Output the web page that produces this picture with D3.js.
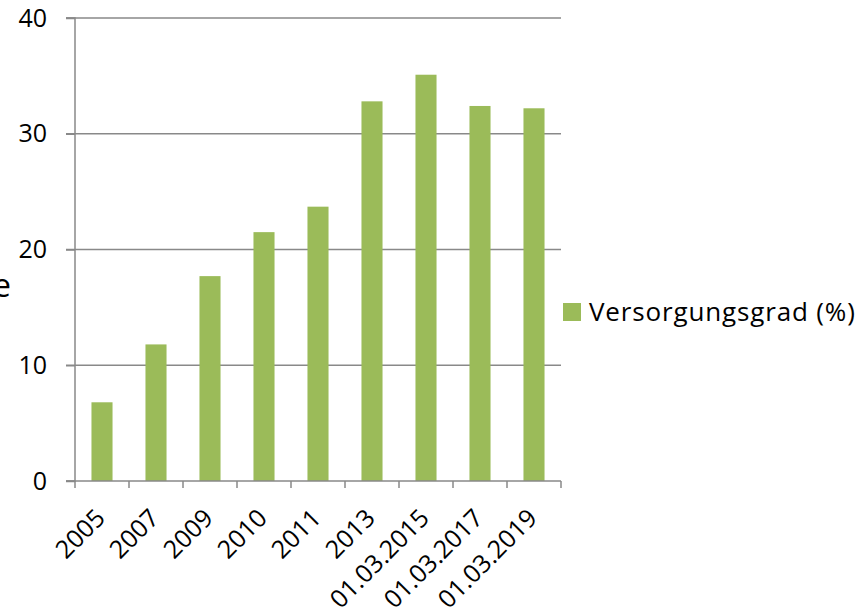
<!DOCTYPE html>
<html><head><meta charset="utf-8">
<script src="https://cdn.jsdelivr.net/npm/d3@7"></script>
<style>html,body{margin:0;padding:0;background:#fff;}svg{display:block;}</style>
</head><body>
<svg id="chart" width="863" height="614"></svg>
<script>
const categories = ["2005","2007","2009","2010","2011","2013","01.03.2015","01.03.2017","01.03.2019"];
const values = [6.8, 11.8, 17.7, 21.5, 23.7, 32.8, 35.1, 32.4, 32.2];
const yTicks = [0, 10, 20, 30, 40];
const seriesName = "Versorgungsgrad (%)";
const yTitle = "Betreuungsquote";

const FONT = "'Open Sans', sans-serif";
const svg = d3.select("#chart");
const L = 75, R = 561, T = 18, B = 481;
const x = d3.scaleBand().domain(categories).range([L, R]).paddingInner(0.61).paddingOuter(0.305);
const xb = d3.scaleBand().domain(categories).range([L, R]).padding(0);
const y = d3.scaleLinear().domain([0, 40]).range([B, T]);
const grid = "#898989";

// gridlines
svg.append("g").selectAll("line").data(yTicks.filter(d => d > 0)).join("line")
  .attr("x1", L - 9).attr("x2", R).attr("y1", d => y(d)).attr("y2", d => y(d))
  .attr("stroke", grid).attr("stroke-width", 1.5);

// bars
svg.append("g").selectAll("rect").data(values).join("rect")
  .attr("x", (d, i) => x(categories[i])).attr("width", x.bandwidth())
  .attr("y", d => y(d)).attr("height", d => y(0) - y(d))
  .attr("fill", "#9BBB59");

// y axis
const yAxis = d3.axisLeft(y).tickValues(yTicks).tickSize(9).tickPadding(19).tickFormat(d3.format("d"));
const ga = svg.append("g").attr("transform", `translate(${L},0)`).call(yAxis);
ga.select(".domain").attr("stroke", grid).attr("stroke-width", 1.5).attr("d", `M-9,${T}H0V${B}H-9`);
ga.selectAll(".tick line").attr("stroke", grid).attr("stroke-width", 1.5);
ga.selectAll(".tick text").attr("font-family", FONT).attr("font-size", 25).attr("fill", "#000");

// x axis
const gx = svg.append("g").attr("transform", `translate(0,${B})`);
gx.append("line").attr("x1", L - 9).attr("x2", R).attr("y1", 0).attr("y2", 0)
  .attr("stroke", grid).attr("stroke-width", 1.5);
const edges = categories.map(c => xb(c)).concat([R]);
gx.selectAll("line.t").data(edges).join("line").attr("class", "t")
  .attr("x1", d => d).attr("x2", d => d).attr("y1", 0).attr("y2", 7)
  .attr("stroke", grid).attr("stroke-width", 1.5);
gx.selectAll("text").data(categories).join("text")
  .attr("transform", d => `translate(${xb(d) + xb.bandwidth() / 2 - 8},${26}) rotate(-45)`)
  .attr("text-anchor", "end").attr("dy", "0.71em")
  .attr("font-family", FONT).attr("font-size", 25).attr("fill", "#000")
  .text(d => d);

// y title (cut off at left)
svg.append("text").attr("x", 11).attr("y", 297).attr("text-anchor", "end")
  .attr("font-family", FONT).attr("font-size", 32).attr("fill", "#000").text(yTitle);

// legend
const lg = svg.append("g").attr("transform", "translate(563,303)");
lg.append("rect").attr("width", 18).attr("height", 18).attr("fill", "#9BBB59");
lg.append("text").attr("x", 26).attr("y", 18).attr("font-family", FONT).attr("font-size", 26)
  .attr("letter-spacing", 0.85).attr("fill", "#000").text(seriesName);
</script>
</body></html>
